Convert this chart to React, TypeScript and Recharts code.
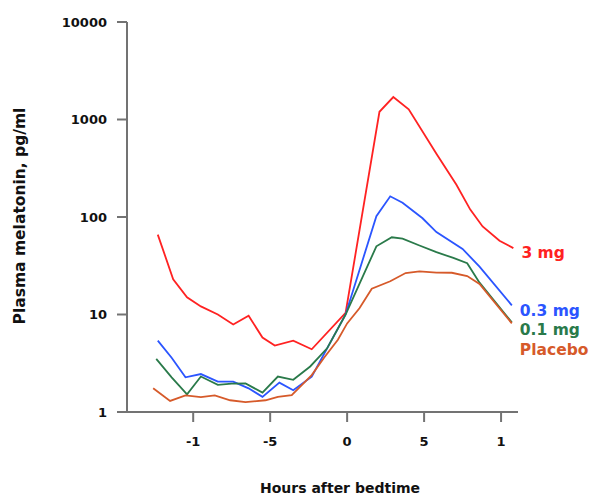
import { LineChart, Line, XAxis, YAxis, Label } from "recharts";

// hours after bedtime / plasma melatonin (pg/ml)
const hours3mg = [-12.3, -11.3, -10.4, -9.5, -8.4, -7.4, -6.4, -5.5, -4.7, -3.5, -2.3, -0.1, 2.1, 3.0, 4.0, 5.8, 7.1, 8.0, 8.8, 9.9, 10.8];
const values3mg = [66, 23, 15, 12.1, 10, 7.9, 9.7, 5.8, 4.8, 5.4, 4.4, 10.4, 1200, 1700, 1270, 445, 214, 119, 80, 57, 48];

const hours03mg = [-12.3, -11.4, -10.5, -9.5, -8.4, -7.4, -6.4, -5.5, -4.4, -3.5, -2.3, -0.1, 1.9, 2.8, 3.6, 4.9, 5.8, 7.5, 8.6, 10.7];
const values03mg = [5.4, 3.6, 2.27, 2.45, 2.05, 2.05, 1.75, 1.43, 2.0, 1.67, 2.3, 10, 102, 163, 140, 97, 70, 47, 31, 12.4];

const hours01mg = [-12.4, -11.4, -10.4, -9.5, -8.4, -7.5, -6.6, -5.5, -4.5, -3.5, -2.4, -1.3, -0.1, 0.8, 1.9, 2.9, 3.6, 4.7, 5.8, 6.9, 7.8, 8.6, 10.7];
const values01mg = [3.5, 2.27, 1.52, 2.31, 1.9, 1.95, 1.96, 1.58, 2.31, 2.14, 2.93, 4.5, 10, 20.6, 50, 62, 60, 51, 43.6, 38, 33.6, 21.2, 8.3];

const hoursPlacebo = [-12.6, -11.5, -10.5, -9.5, -8.6, -7.6, -6.6, -5.3, -4.5, -3.6, -2.3, -1.5, -0.6, 0, 0.8, 1.6, 2.8, 3.8, 4.7, 5.8, 6.8, 7.8, 8.6, 10.7];
const valuesPlacebo = [1.75, 1.3, 1.48, 1.42, 1.48, 1.32, 1.26, 1.32, 1.43, 1.49, 2.39, 3.6, 5.5, 8.1, 11.6, 18.4, 21.9, 26.6, 27.7, 26.9, 26.8, 24.8, 20.6, 8.1];

const xTicks = [-10, -5, 0, 5, 10];
const xTickLabels = ["-1", "-5", "0", "5", "1"];
const yTicks = [1, 10, 100, 1000, 10000];

const series = [
  { name: "3 mg", color: "#ff2222", hours: hours3mg, values: values3mg, dy: 5 },
  { name: "0.3 mg", color: "#2b55ff", hours: hours03mg, values: values03mg, dy: 6 },
  { name: "0.1 mg", color: "#2a7a4a", hours: hours01mg, values: values01mg, dy: 8 },
  { name: "Placebo", color: "#d65a2a", hours: hoursPlacebo, values: valuesPlacebo, dy: 27 },
];

const FONT = "'DejaVu Sans', Verdana, sans-serif";
const AXIS = "#737373";
const tickStyle = { fontSize: 13, fontWeight: 700, fill: "#111", fontFamily: FONT };
const titleStyle = { fontSize: 14, fontWeight: 700, fill: "#111", fontFamily: FONT };

export default function App() {
  return (
    <div style={{ position: "absolute", left: 0, top: 0, background: "#fff" }}>
      <LineChart width={595} height={498} margin={{ top: 22, right: 77, left: 0, bottom: 26 }}>
        <XAxis
          type="number"
          dataKey="h"
          domain={[-14.3, 11.1]}
          ticks={xTicks}
          allowDataOverflow
          tickFormatter={(v: number) => xTickLabels[xTicks.indexOf(v)] ?? String(v)}
          tickSize={10}
          tickMargin={15}
          height={60}
          axisLine={{ stroke: AXIS, strokeWidth: 2 }}
          tickLine={{ stroke: AXIS, strokeWidth: 2 }}
          tick={tickStyle}
        >
          <Label
            content={() => (
              <text x={340} y={488} textAnchor="middle" dominantBaseline="central" style={titleStyle}>
                Hours after bedtime
              </text>
            )}
          />
        </XAxis>
        <YAxis
          type="number"
          scale="log"
          domain={[1, 10000]}
          ticks={yTicks}
          allowDataOverflow
          width={127}
          tickSize={10}
          tickMargin={10}
          axisLine={{ stroke: AXIS, strokeWidth: 2 }}
          tickLine={{ stroke: AXIS, strokeWidth: 2 }}
          tick={tickStyle}
        >
          <Label
            content={() => (
              <text
                x={20}
                y={216}
                transform="rotate(-90 20 216)"
                textAnchor="middle"
                dominantBaseline="central"
                style={{ ...titleStyle, fontSize: 15.5 }}
              >
                Plasma melatonin, pg/ml
              </text>
            )}
          />
        </YAxis>
        {series.map((s) => {
          const data = s.hours.map((h, i) => ({ h, v: s.values[i] }));
          const last = data.length - 1;
          return (
            <Line
              key={s.name}
              data={data}
              dataKey="v"
              type="linear"
              stroke={s.color}
              strokeWidth={1.8}
              dot={false}
              activeDot={false}
              isAnimationActive={false}
              label={(p: any) =>
                p.index === last ? (
                  <text
                    key={s.name}
                    x={p.x + 8}
                    y={p.y + s.dy}
                    dominantBaseline="central"
                    style={{ fontSize: 15.5, fontWeight: 700, fill: s.color, fontFamily: FONT }}
                  >
                    {s.name}
                  </text>
                ) : (
                  <g key={p.index} />
                )
              }
            />
          );
        })}
      </LineChart>
    </div>
  );
}
